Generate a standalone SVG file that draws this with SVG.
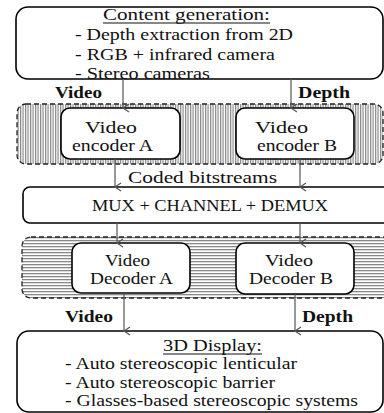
<svg xmlns="http://www.w3.org/2000/svg" width="384" height="413" viewBox="0 0 384 413">
<style>
.t{font-family:"Liberation Serif","Times New Roman",serif;font-size:17px;fill:#111}
.b{font-weight:bold}
.box{fill:#fff;stroke:#000;stroke-width:1.6}
.grp{stroke:#222;stroke-width:1.3;stroke-dasharray:5 3}
.conn{stroke:#555;stroke-width:1.2;fill:none;marker-end:url(#arr)}
</style>
<defs>
<pattern id="vh" width="2.5" height="4" patternUnits="userSpaceOnUse"><rect width="2.5" height="4" fill="#fff"/><rect width="1.2" height="4" fill="#888"/></pattern>
<pattern id="hh" width="4" height="3" patternUnits="userSpaceOnUse"><rect width="4" height="3" fill="#fff"/><rect width="4" height="1.3" fill="#888"/></pattern>
<marker id="arr" markerWidth="10" markerHeight="10" refX="5" refY="8" orient="auto" markerUnits="userSpaceOnUse" viewBox="0 0 10 10"><path d="M1,2 L5,8 L9,2" fill="none" stroke="#555" stroke-width="1.2"/></marker>
</defs>

<g id="content-generation">
<rect class="box" x="16" y="7" width="367" height="72" rx="12"/>
<text class="t" x="103" y="20" textLength="167" lengthAdjust="spacingAndGlyphs">Content generation:</text>
<line x1="103" y1="23" x2="270" y2="23" stroke="#111" stroke-width="1"/>
<text class="t" x="75" y="40" textLength="218" lengthAdjust="spacingAndGlyphs">- Depth extraction from 2D</text>
<text class="t" x="75" y="60" textLength="200" lengthAdjust="spacingAndGlyphs">- RGB + infrared camera</text>
<text class="t" x="75" y="79" textLength="135" lengthAdjust="spacingAndGlyphs">- Stereo cameras</text>
</g>

<g id="encoder-group">
<rect class="grp" x="17" y="104" width="366" height="60" rx="9" fill="url(#vh)"/>
</g>
<g id="encoder-a">
<rect class="box" x="61" y="108" width="119" height="51" rx="9" stroke-width="2"/>
<text class="t" x="85" y="133" textLength="52" lengthAdjust="spacingAndGlyphs">Video</text>
<text class="t" x="72" y="151" textLength="81" lengthAdjust="spacingAndGlyphs">encoder A</text>
</g>
<g id="encoder-b">
<rect class="box" x="236" y="108" width="118" height="51" rx="9" stroke-width="2"/>
<text class="t" x="255" y="133" textLength="53" lengthAdjust="spacingAndGlyphs">Video</text>
<text class="t" x="257" y="151" textLength="80" lengthAdjust="spacingAndGlyphs">encoder B</text>
</g>

<g id="mux">
<rect class="box" x="23" y="187" width="370" height="36" rx="7"/>
<text class="t" x="92" y="211" textLength="236" lengthAdjust="spacingAndGlyphs">MUX + CHANNEL + DEMUX</text>
</g>

<g id="decoder-group">
<rect class="grp" x="22" y="237" width="370" height="61" rx="9" fill="url(#hh)"/>
</g>
<g id="decoder-a">
<rect class="box" x="72" y="243" width="118" height="50" rx="9" stroke-width="2"/>
<text class="t" x="105" y="266" textLength="45" lengthAdjust="spacingAndGlyphs">Video</text>
<text class="t" x="90" y="284" textLength="83" lengthAdjust="spacingAndGlyphs">Decoder A</text>
</g>
<g id="decoder-b">
<rect class="box" x="236" y="243" width="118" height="51" rx="9" stroke-width="2"/>
<text class="t" x="265" y="266" textLength="48" lengthAdjust="spacingAndGlyphs">Video</text>
<text class="t" x="249" y="284" textLength="84" lengthAdjust="spacingAndGlyphs">Decoder B</text>
</g>

<g id="display">
<rect class="box" x="17" y="331" width="366" height="81" rx="12"/>
<text class="t" x="163" y="351" textLength="99" lengthAdjust="spacingAndGlyphs">3D Display:</text>
<line x1="163" y1="354" x2="262" y2="354" stroke="#111" stroke-width="1"/>
<text class="t" x="65" y="369" textLength="232" lengthAdjust="spacingAndGlyphs">- Auto stereoscopic lenticular</text>
<text class="t" x="65" y="388" textLength="210" lengthAdjust="spacingAndGlyphs">- Auto stereoscopic barrier</text>
<text class="t" x="65" y="406" textLength="293" lengthAdjust="spacingAndGlyphs">- Glasses-based stereoscopic systems</text>
</g>

<g id="connectors">
<line class="conn" x1="123" y1="79" x2="123" y2="108"/>
<line class="conn" x1="291" y1="79" x2="291" y2="108"/>
<line class="conn" x1="115" y1="159" x2="115" y2="187"/>
<line class="conn" x1="300" y1="159" x2="300" y2="187"/>
<line class="conn" x1="117" y1="223" x2="117" y2="243"/>
<line class="conn" x1="300" y1="223" x2="300" y2="243"/>
<line class="conn" x1="124" y1="293" x2="124" y2="331"/>
<line class="conn" x1="295" y1="294" x2="295" y2="331"/>
</g>

<g id="labels">
<text class="t b" x="55" y="98" textLength="47" lengthAdjust="spacingAndGlyphs">Video</text>
<text class="t b" x="298" y="98" textLength="52" lengthAdjust="spacingAndGlyphs">Depth</text>
<text class="t" x="128" y="183" textLength="149" lengthAdjust="spacingAndGlyphs">Coded bitstreams</text>
<text class="t b" x="65" y="322" textLength="48" lengthAdjust="spacingAndGlyphs">Video</text>
<text class="t b" x="302" y="322" textLength="51" lengthAdjust="spacingAndGlyphs">Depth</text>
</g>
</svg>
